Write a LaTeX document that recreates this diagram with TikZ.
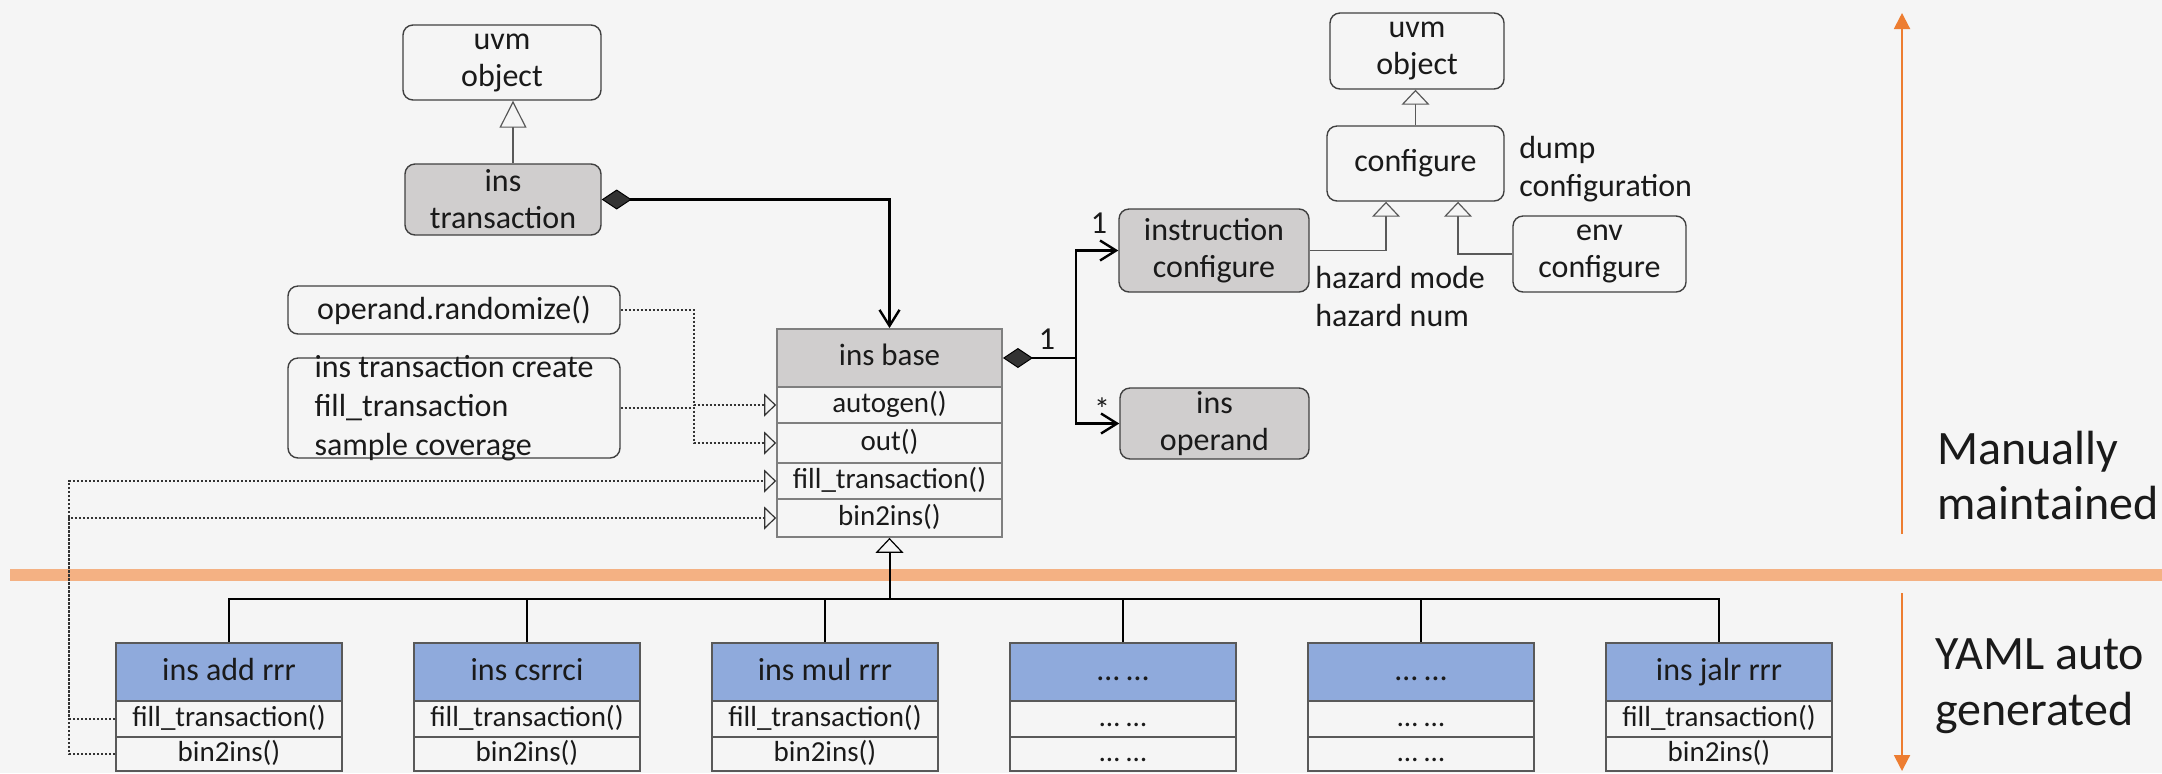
\documentclass[tikz,border=0pt]{standalone}
\usepackage{fontspec}
\setmainfont{Carlito}
\usetikzlibrary{arrows.meta}
\definecolor{bgc}{HTML}{F5F5F5}
\definecolor{boxgray}{HTML}{D0CECE}
\definecolor{hdrblue}{HTML}{8FAADC}
\definecolor{bandor}{HTML}{F4B183}
\definecolor{arror}{HTML}{ED7D31}
\definecolor{edgec}{HTML}{404040}
\definecolor{rowedge}{HTML}{7F7F7F}
\definecolor{botedge}{HTML}{595959}
\definecolor{ink}{HTML}{1A1A1A}
\begin{document}
\begin{tikzpicture}[x=0.5pt,y=-0.5pt,
  rbox/.style={draw=edgec, line width=0.7pt, rounded corners=5pt, text=ink,
    font=\fontsize{16}{18.5}\selectfont, align=center, inner sep=0pt},
  gfill/.style={fill=boxgray},
  rowbox/.style={draw=rowedge, line width=0.9pt, inner sep=0pt, minimum width=112.5pt,
    font=\fontsize{14.5}{16}\selectfont, text=ink, text height=10.5pt, text depth=3pt},
  hdrbox/.style={rowbox, fill=boxgray, minimum height=29pt, font=\fontsize{15.5}{17}\selectfont},
  bhdr/.style={draw=botedge, line width=0.8pt, fill=hdrblue, inner sep=0pt, minimum width=113pt,
    minimum height=29pt, font=\fontsize{16}{18}\selectfont, text=ink, text height=11pt, text depth=3pt},
  brow/.style={draw=botedge, line width=0.8pt, inner sep=0pt, minimum width=113pt,
    font=\fontsize{14.5}{16}\selectfont, text=ink, text height=10.5pt, text depth=3pt},
  plain/.style={text=ink, font=\fontsize{16}{19}\selectfont, align=left, inner sep=0pt},
  thinl/.style={draw=botedge, line width=0.6pt},
  inh/.style={thinl, -{Triangle[length=7.5pt, width=14pt, fill=bgc]}},
  inhL/.style={thinl, -{Triangle[length=13.5pt, width=13.5pt, fill=bgc]}},
  dotc/.style={draw=black!80, line width=0.6pt, dash pattern=on 1.2pt off 0.8pt},
  dota/.style={dotc, -{Triangle[length=6pt, width=11.5pt, fill=bgc]}},
  comp/.style={draw=black, line width=1.2pt},
  dia/.style={{Diamond[length=15pt, width=10pt, fill=black!80, line width=0.5pt]}-},
  diabarb/.style={{Diamond[length=15pt, width=10pt, fill=black!80, line width=0.5pt]}-{Straight Barb[length=8pt, width=10pt]}},
  barb/.style={-{Straight Barb[length=8pt, width=10pt]}},
  orarrow/.style={draw=arror, line width=1pt, -{Triangle[length=8pt, width=8pt]}}
]
\fill[bgc] (0,0) rectangle (2162,773);
\useasboundingbox (0,0) rectangle (2162,773);

% orange separator band
\fill[bandor] (10,569) rectangle (2162,581);

% left top classes
\node[rbox, minimum width=99pt, minimum height=37.5pt] (uvmL) at (502,62.5) {uvm\\object};
\node[rbox, gfill, minimum width=98pt, minimum height=35.5pt] (insT) at (503,199.5) {ins\\transaction};
\node[rbox, minimum width=166pt, minimum height=24pt] (opR) at (454,310) {operand.randomize()};
\node[rbox, minimum width=166pt, minimum height=50pt] (opC) at (454,408) {};
\node[plain, font=\fontsize{16}{19.5}\selectfont] (opCtext) at (opC.center) {ins transaction create\\fill\_transaction\\sample coverage};

% ins base class
\node[hdrbox] (hdr) at (889.5,358) {ins base};
\node[rowbox, minimum height=18pt] (rA) at (889.5,405) {autogen()};
\node[rowbox, minimum height=20pt] (rO) at (889.5,443) {out()};
\node[rowbox, minimum height=18pt] (rF) at (889.5,481) {fill\_transaction()};
\node[rowbox, minimum height=19pt] (rB) at (889.5,518) {bin2ins()};

% right top classes
\node[rbox, minimum width=87pt, minimum height=38pt] (uvmR) at (1417,51) {uvm\\object};
\node[rbox, minimum width=88.5pt, minimum height=37.5pt] (conf) at (1415.5,163.5) {configure};
\node[rbox, gfill, minimum width=95pt, minimum height=41.5pt] (iconf) at (1214,250.5) {instruction\\configure};
\node[rbox, minimum width=86.5pt, minimum height=38pt] (econf) at (1599.5,254) {env\\configure};
\node[rbox, gfill, minimum width=94.5pt, minimum height=35.5pt] (iop) at (1214.5,423.5) {ins\\operand};

\node[plain, anchor=west] (dumpt) at (1519,169) {dump\\configuration};
\node[plain, anchor=west] (hazt) at (1315,296) {hazard mode\\hazard num};
\node[plain] (m1a) at (1099,223) {1};
\node[plain] (m1b) at (1047,339) {1};
\node[plain] (mstar) at (1102,409) {*};

\node[text=ink, font=\fontsize{24}{27.5}\selectfont, align=left, inner sep=0pt, anchor=west] (manu) at (1937,475) {Manually\\maintained};
\node[text=ink, font=\fontsize{24}{28}\selectfont, align=left, inner sep=0pt, anchor=west] (yaml) at (1935,686) {YAML auto\\generated};

% bottom generated classes
\foreach \i/\t/\a/\b in {1/ins add rrr/fill\_transaction()/bin2ins(),
                         2/ins csrrci/fill\_transaction()/bin2ins(),
                         3/ins mul rrr/fill\_transaction()/bin2ins(),
                         4/… …/… …/… …,
                         5/… …/… …/… …,
                         6/ins jalr rrr/fill\_transaction()/bin2ins()}{
  \pgfmathsetmacro\cx{229+298*(\i-1)}
  \node[bhdr] (b\i h) at (\cx,672) {\t};
  \node[brow, minimum height=18pt] (b\i f) at (\cx,719) {\a};
  \node[brow, minimum height=17pt] (b\i b) at (\cx,754) {\b};
}

% inheritance connectors
\draw[inhL] ([xshift=5pt]insT.north) -- ([xshift=5pt]insT.north |- uvmL.south);
\draw[inh] (conf.north) -- (conf.north |- uvmR.south);
\coordinate (kA) at (1386,0);
\coordinate (kB) at (1458,0);
\draw[inh] (iconf.east) -| (kA |- conf.south);
\draw[inh] (econf.west) -| (kB |- conf.south);

% composition / association
\draw[comp, diabarb] (insT.east) -| (hdr.north);
\coordinate (jn) at (1076,358);
\draw[comp, dia] (hdr.east) -- (jn);
\draw[comp, barb] (jn) |- (iconf.west);
\draw[comp, barb] (jn) |- (iop.west);

% dotted realisations
\coordinate (xd) at (694,0);
\draw[dota] (opR.east) -- (opR.east -| xd) |- (rA.west);
\draw[dota] (opC.east) -- (opC.east -| xd) |- (rO.west);
\coordinate (xl) at (69,0);
\draw[dota] (b1f.west) -- (b1f.west -| xl) |- (rF.west);
\draw[dota] (b1b.west) -- (b1b.west -| xl) |- (rB.west);

% generalisation tree
\coordinate (bar) at (889.5,599);
\foreach \i in {1,...,6}{
  \draw[draw=black, line width=0.6pt] (b\i h.north) |- (bar);
}
\draw[draw=black, line width=1pt] (bar) -- (bar -| b5h.north);
\draw[draw=black, line width=1pt, -{Triangle[length=7.5pt, width=14pt, fill=bgc, line width=0.6pt]}] (bar) -- (rB.south);

% orange side arrows
\coordinate (oT) at (1902,13);
\coordinate (oM1) at (1902,534);
\coordinate (oM2) at (1902,593);
\coordinate (oB) at (1902,771);
\draw[orarrow] (oM1) -- (oT);
\draw[orarrow] (oM2) -- (oB);
\end{tikzpicture}
\end{document}
